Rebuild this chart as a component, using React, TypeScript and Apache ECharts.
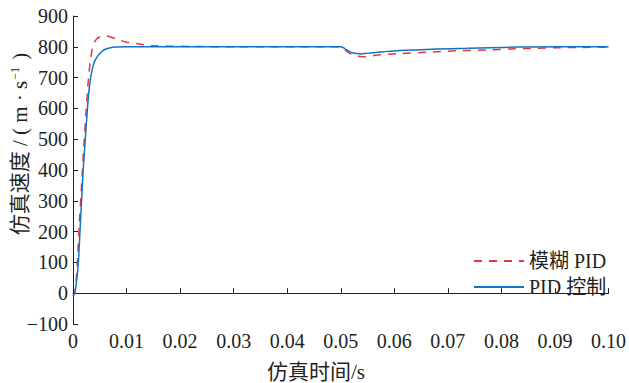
import React, { useEffect, useRef } from "react";
import * as echarts from "echarts";

const fuzzyT = [0, 0.0003, 0.0006, 0.0009, 0.0012, 0.0016, 0.002, 0.0024, 0.0028, 0.0032, 0.0036, 0.004, 0.0045, 0.005, 0.0056, 0.0062, 0.007, 0.008, 0.009, 0.01, 0.012, 0.0146, 0.018, 0.022, 0.03, 0.05, 0.0505, 0.051, 0.052, 0.053, 0.054, 0.0545, 0.0555, 0.0574, 0.061, 0.066, 0.0717, 0.078, 0.0815, 0.086, 0.09, 0.095, 0.1];
const fuzzyV = [-8, 0, 40, 130, 230, 350, 470, 580, 680, 750, 793, 815, 827, 832, 834, 835, 832, 826, 820, 815, 810, 804, 802, 801, 800, 800, 795, 787, 776, 770, 768, 768, 770, 774, 778, 782, 787, 790, 793, 795, 797, 798, 799];

const pidT = [0, 0.0003, 0.0006, 0.001, 0.0013, 0.0016, 0.0019, 0.0023, 0.0027, 0.003, 0.0033, 0.0037, 0.0041, 0.0047, 0.0053, 0.006, 0.007, 0.008, 0.01, 0.05, 0.0505, 0.051, 0.052, 0.053, 0.0537, 0.0545, 0.056, 0.058, 0.061, 0.064, 0.068, 0.0735, 0.078, 0.083, 0.09, 0.1];
const pidV = [-10, -2, 30, 100, 200, 300, 400, 500, 600, 660, 700, 735, 755, 772, 783, 792, 797, 799, 800, 800, 797, 791, 782, 778, 777, 778, 781, 784, 788, 790, 793, 795, 797, 799, 800, 800];

const seriesNames = ["模糊 PID", "PID 控制"];
const xTitle = "仿真时间/s";
const yTitle = "仿真速度 / ( m · s";

const FONT = '"Liberation Serif", "Times New Roman", "Noto Sans CJK SC", serif';
const TEXT = "#231f20";

export default function App() {
  const ref = useRef<HTMLDivElement>(null);
  useEffect(() => {
    if (!ref.current) return;
    document.body.style.margin = "0";
    const chart = echarts.init(ref.current, undefined, { renderer: "svg" });
    const axisCommon = {
      axisLine: { show: true, lineStyle: { color: TEXT, width: 1 } },
      axisTick: { show: true, inside: true, length: 5, lineStyle: { color: TEXT } },
      splitLine: { show: false },
    };
    chart.setOption({
      animation: false,
      backgroundColor: "#ffffff",
      grid: { left: 73, right: 16, top: 16, bottom: 59, containLabel: false },
      xAxis: {
        type: "value",
        min: 0,
        max: 0.1,
        interval: 0.01,
        ...axisCommon,
        axisLabel: {
          margin: 7,
          fontFamily: FONT,
          fontSize: 20,
          color: TEXT,
          formatter: (v: number) => (Math.abs(v) < 1e-9 ? "0" : v.toFixed(2)),
        },
      },
      yAxis: {
        type: "value",
        min: -100,
        max: 900,
        interval: 100,
        ...axisCommon,
        axisLabel: {
          margin: 5,
          fontFamily: FONT,
          fontSize: 20,
          color: TEXT,
          formatter: (v: number) => (v < 0 ? "\u2212" + Math.abs(v) : String(v)),
        },
      },
      legend: {
        orient: "vertical",
        left: 473,
        top: 251,
        padding: 0,
        itemWidth: 50,
        itemHeight: 14,
        itemGap: 6,
        itemStyle: { opacity: 0 },
        textStyle: { fontFamily: FONT, fontSize: 20, color: TEXT },
        data: seriesNames,
      },
      graphic: [
        {
          type: "text",
          x: 20,
          y: 144,
          rotation: Math.PI / 2,
          style: {
            text: "{n|" + yTitle + "}{s|\u22121}{n| )}",
            align: "center",
            verticalAlign: "middle",
            rich: {
              n: { fontFamily: FONT, fontSize: 21, fill: TEXT, color: TEXT },
              s: { fontFamily: FONT, fontSize: 12, fill: TEXT, color: TEXT, verticalAlign: "top", padding: [0, 2, 10, 1] },
            },
          },
        },
        {
          type: "text",
          x: 316,
          y: 372,
          style: {
            text: xTitle,
            fontFamily: FONT,
            fontSize: 21,
            fill: TEXT,
            align: "center",
            verticalAlign: "middle",
          },
        },
      ],
      series: [
        {
          name: seriesNames[0],
          type: "line",
          symbol: "none",
          data: fuzzyT.map((t, i) => [t, fuzzyV[i]]),
          smooth: 0.2,
          lineStyle: { color: "#e8343f", width: 1.5, type: [8, 7] },
          itemStyle: { color: "#e8343f" },
        },
        {
          name: seriesNames[1],
          type: "line",
          symbol: "none",
          data: pidT.map((t, i) => [t, pidV[i]]),
          smooth: 0.2,
          lineStyle: { color: "#1372c4", width: 1.5 },
          itemStyle: { color: "#1372c4" },
        },
      ],
    });
    return () => chart.dispose();
  }, []);
  return <div ref={ref} style={{ width: 629, height: 383 }} />;
}
